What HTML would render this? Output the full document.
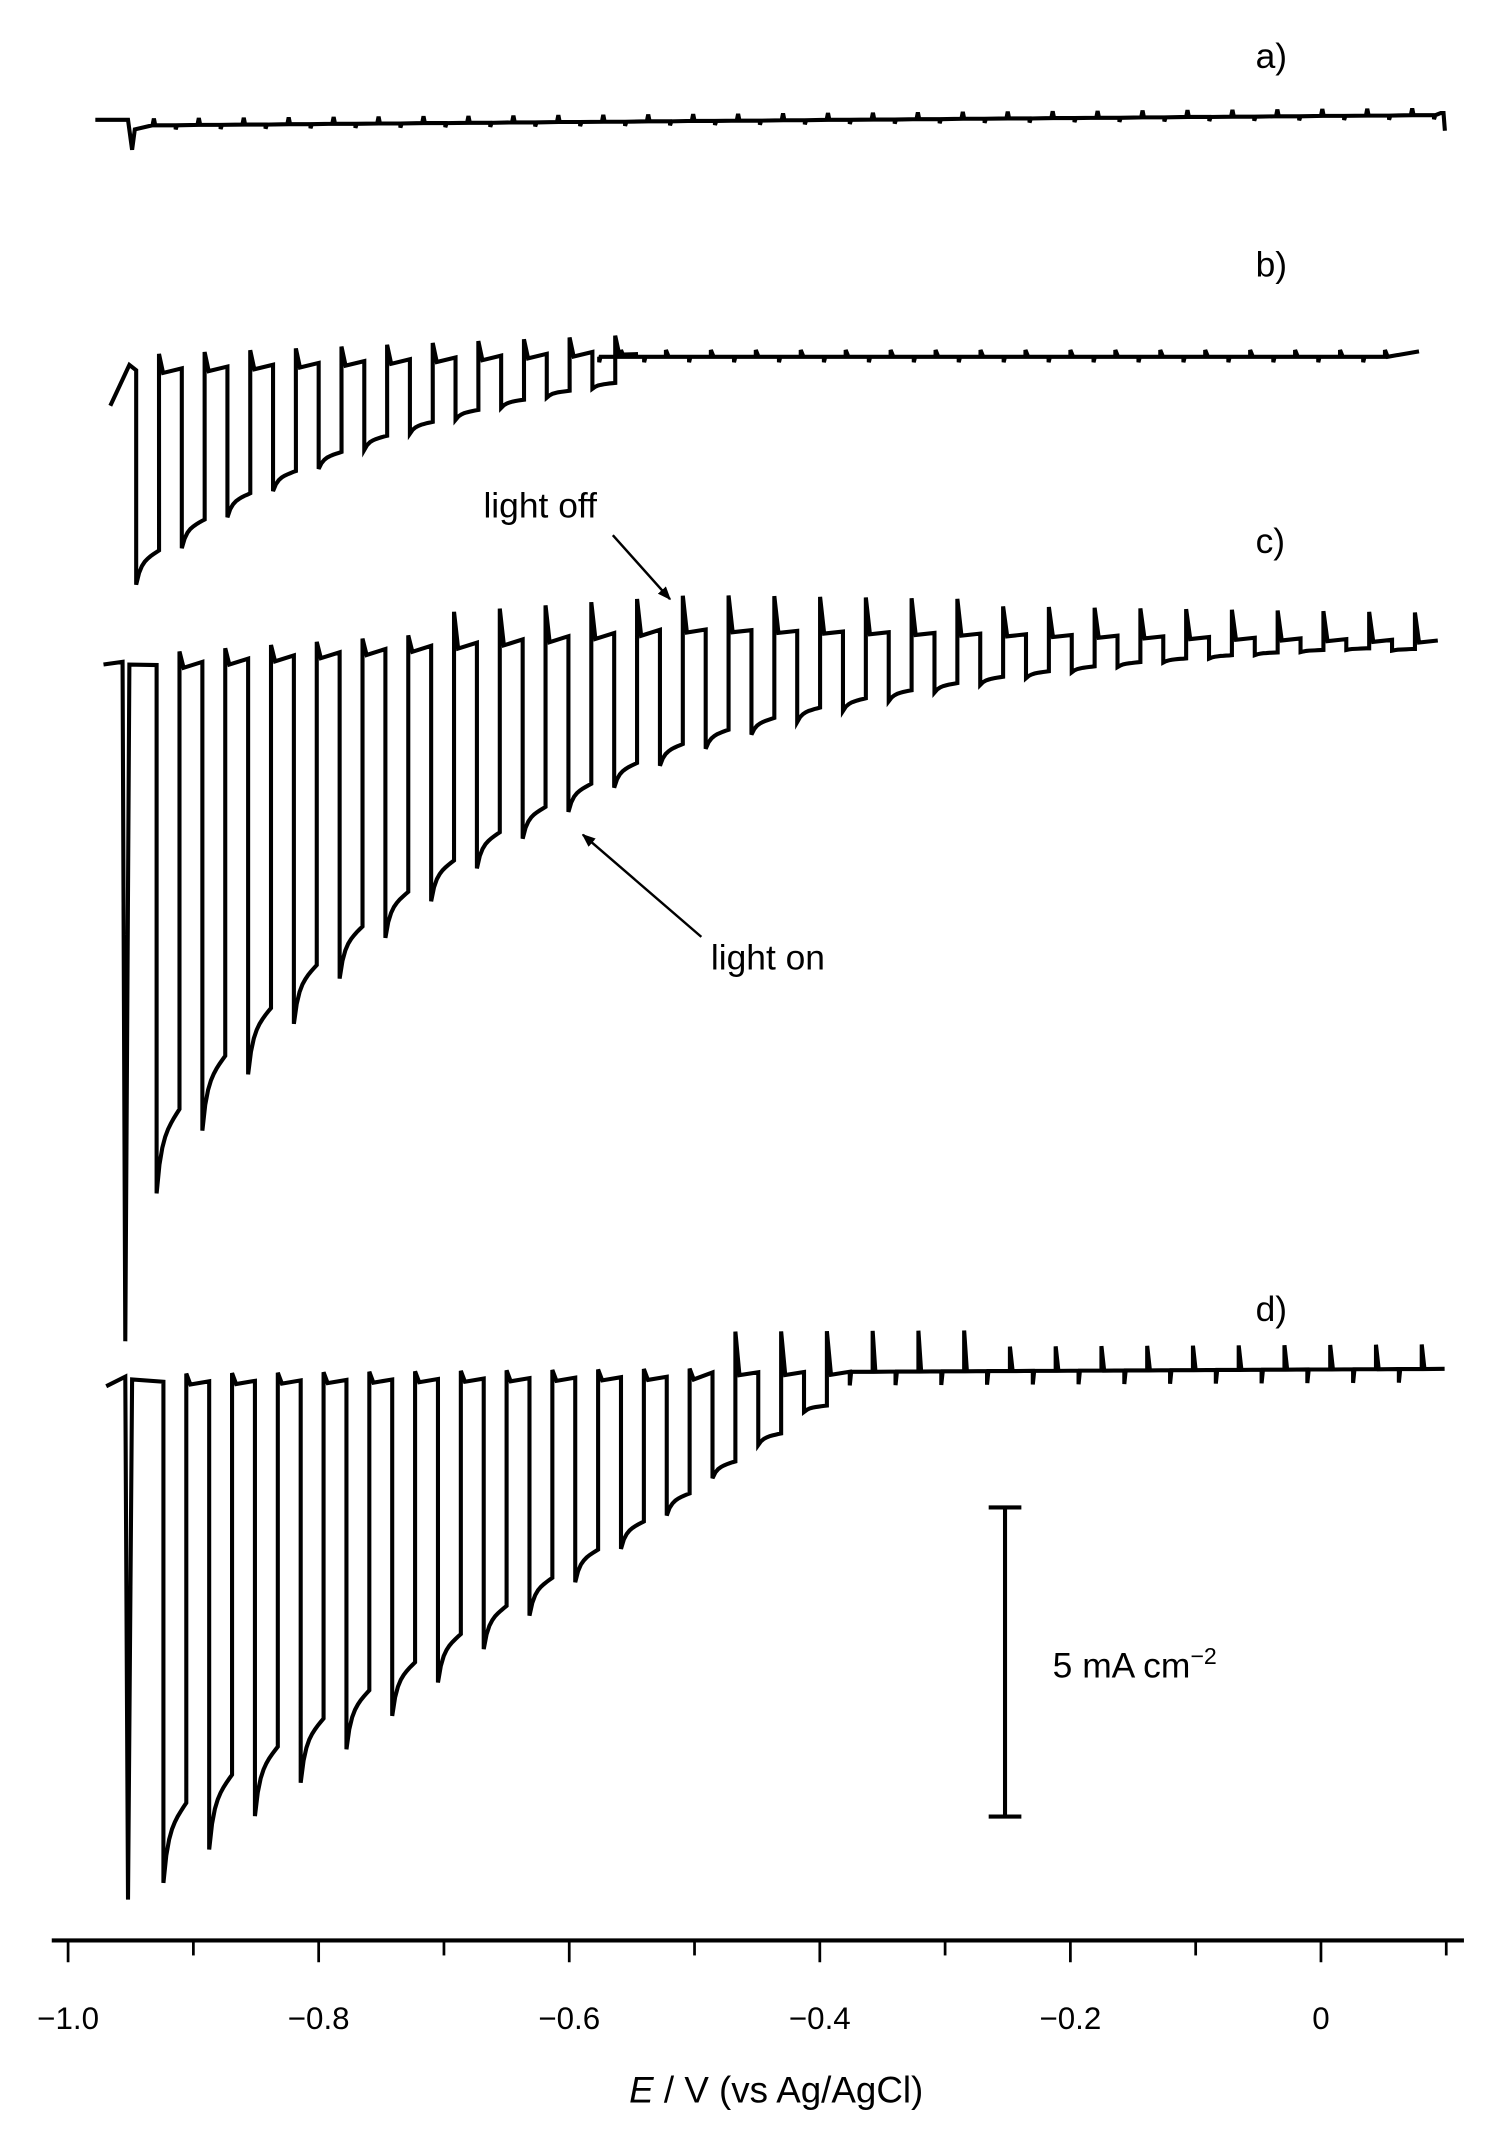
<!DOCTYPE html>
<html><head><meta charset="utf-8"><style>
html,body{margin:0;padding:0;background:#fff}
svg{display:block}
text{font-family:"Liberation Sans",sans-serif;fill:#000}
</style></head><body>
<svg id="s" width="1498" height="2142" viewBox="0 0 1100 1573" preserveAspectRatio="none" xmlns="http://www.w3.org/2000/svg">
<defs><marker id="ah" markerWidth="10" markerHeight="8" refX="9" refY="4" orient="auto" markerUnits="userSpaceOnUse"><path d="M0,0 L10,4 L0,8 Z" fill="#000"/></marker></defs>
<g id="traces" fill="none" stroke="#000" stroke-width="3" stroke-linejoin="miter"></g>
<text x="922" y="50" font-size="26">a)</text>
<text x="922" y="203" font-size="26">b)</text>
<text x="922" y="406" font-size="26">c)</text>
<text x="922" y="970" font-size="26">d)</text>
<text x="355" y="380" font-size="26">light off</text>
<line x1="450" y1="393" x2="492" y2="440" stroke="#000" stroke-width="1.8" marker-end="url(#ah)"/>
<text x="522" y="712" font-size="26">light on</text>
<line x1="515" y1="688" x2="428" y2="613" stroke="#000" stroke-width="1.8" marker-end="url(#ah)"/>
<g stroke="#000" stroke-width="3">
<line x1="738" y1="1107" x2="738" y2="1334"/>
<line x1="726" y1="1107" x2="750" y2="1107"/>
<line x1="726" y1="1334" x2="750" y2="1334"/>
</g>
<text x="773" y="1232" font-size="26">5 mA cm<tspan font-size="17" dy="-10">−2</tspan></text>
<line x1="38" y1="1425" x2="1075" y2="1425" stroke="#000" stroke-width="3"/>
<g id="ticks" stroke="#000" stroke-width="2"></g>
<g font-size="23" text-anchor="middle">
<text x="50" y="1490">−1.0</text><text x="234" y="1490">−0.8</text><text x="418" y="1490">−0.6</text>
<text x="602" y="1490">−0.4</text><text x="786" y="1490">−0.2</text><text x="970" y="1490">0</text>
</g>
<text x="570" y="1544" font-size="27" text-anchor="middle"><tspan font-style="italic">E</tspan> / V (vs Ag/AgCl)</text>
</svg>
<script>
var NS="http://www.w3.org/2000/svg";
var tk=document.getElementById('ticks');
for(var i=0;i<12;i++){var x=50+92*i;var l=document.createElementNS(NS,'line');l.setAttribute('x1',x);l.setAttribute('x2',x);l.setAttribute('y1',1425);l.setAttribute('y2',i%2?1436:1441);tk.appendChild(l);}
var g=document.getElementById('traces');
function add(d,w){var p=document.createElementNS(NS,'path');p.setAttribute('d',d);if(w)p.setAttribute('stroke-width',w);g.appendChild(p);}
function trace(xs,x1,xe,P,top,amp,spk,startY,spikeD){
  var d='M'+(xs-16)+','+startY+' L'+(xs-2)+','+(top(xs)-4);
  if(spikeD){d+=' L'+xs+','+spikeD+' L'+(xs+3)+','+(top(xs)-2)+' L'+x1+','+top(x1);}
  else d+=' L'+x1+','+top(x1);
  for(var x0=x1;x0<xe;x0+=P){
    var A=amp(x0),t=top(x0),s=spk(x0);
    var h=P/2;
    if(A>6){
      d+=' L'+x0+','+(t+A);
      for(var k=1;k<=8;k++){var xx=x0+h*k/8;var r=0.6*(1-Math.exp(-k/1.5))+0.4*k/8;d+=' L'+xx.toFixed(1)+','+(t+A-A*0.16*r).toFixed(1);}
      d+=' L'+(x0+h)+','+(t-s)+' L'+(x0+h+3)+','+(t+2)+' L'+(x0+P)+','+top(x0+P);
    } else {
      d+=' L'+x0+','+(t+A+4)+' L'+(x0+1)+','+t+' L'+(x0+h)+','+t+' L'+(x0+h)+','+(t-s)+' L'+(x0+h+2)+','+t+' L'+(x0+P)+','+top(x0+P);
    }
  }
  add(d);
}
// a
(function(){var d='M70,88 L94,88 L97,110 L99,95 L112,92';for(var x=112;x<1050;x+=33){var y=(92-(x-112)*0.008).toFixed(1);d+=' L'+x+','+y+' L'+(x+1)+','+(y-5)+' L'+(x+2)+','+y+' L'+(x+17)+','+y+' L'+(x+17)+','+(+y+3)+' L'+(x+18)+','+y;}d+=' L1058,83 L1060,83 L1061,96';add(d);})();
// b
trace(97,100,440,33.5,function(x){return x<440?272-(x-97)*0.04:260},function(x){return x<440?Math.max(0,160*Math.exp(-(x-97)/190)):0},function(x){return x<440?12:4},298,0);
(function(){var d='M440,262';for(var x=440;x<1030;x+=33){d+=' L'+x+',262 L'+x+','+(x%3?266:270)+' L'+(x+1)+',262 L'+(x+16)+',262 L'+(x+16)+',257 L'+(x+18)+',262';}d+=' L1042,258';add(d);})();
// c
trace(92,115,1040,33.6,function(x){return x<500?490-(x-92)*0.07:462+(x-500)*0.015},function(x){return Math.max(8,400*Math.exp(-(x-115)/290)-12);},function(x){return x<300?10:x<700?25:(Math.abs(x-873)<12?60:20)},488,985);
// d
trace(94,120,1040,33.6,function(x){return x<500?1015-(x-92)*0.01:1008-(x-500)*0.005},function(x){return Math.max(6,368-(x-120)*0.72);},function(x){return x<500?6:(x<700?30:18)},1018,1395);
</script>
</body></html>
